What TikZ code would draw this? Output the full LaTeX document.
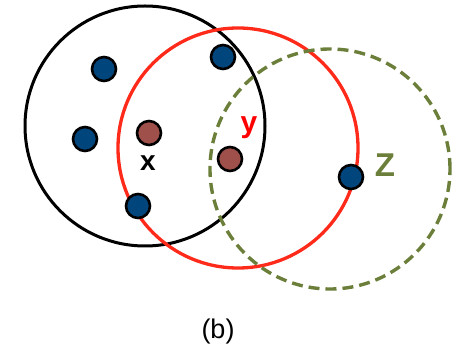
\documentclass[tikz,border=0pt]{standalone}
\usepackage{fontspec}
\setmainfont{Liberation Sans}
\usetikzlibrary{positioning}
\definecolor{ptblue}{HTML}{00457C}
\definecolor{ptred}{HTML}{A0504A}
\definecolor{ringred}{HTML}{FF2A1A}
\definecolor{ringgreen}{HTML}{6B7F3A}

\begin{document}
\begin{tikzpicture}[
    x=1pt, y=-1pt,
    ring/.style={circle, draw, line width=3pt, minimum size=240pt, inner sep=0pt},
    point/.style={circle, draw=black, line width=2.6pt, minimum size=24pt, inner sep=0pt},
    lbl/.style={inner sep=0pt, anchor=base, font=\bfseries\fontsize{28}{28}\selectfont}
]
\useasboundingbox (0,0) rectangle (458,347);
% the three neighbourhoods
\node[ring, draw=black] (ringx) at (145,126) {};
\node[ring, draw=ringred, line width=3.3pt] (ringy) at (238,148) {};
\node[ring, draw=ringgreen, dash pattern=on 11pt off 6pt, line width=3.4pt] (ringz) at (330,169) {};
% points
\node[point, fill=ptblue] (p1) at (104,69) {};
\node[point, fill=ptblue] (p2) at (85,139) {};
\node[point, fill=ptblue] (p3) at (223,57) {};
\node[point, fill=ptblue] (p4) at (138,206) {};
\node[point, fill=ptred] (xdot) at (149,133) {};
\node[point, fill=ptred] (ydot) at (230,159) {};
\node[point, fill=ptblue] (zdot) at (351,177) {};
% labels
\node[lbl] (xlbl) at (148,171) {x};
\node[lbl, text=red, font=\bfseries\fontsize{30}{30}\selectfont] (ylbl) at (249,133) {y};
\node[lbl, text=ringgreen, font=\bfseries\fontsize{33}{33}\selectfont] (zlbl) at (385,177) {Z};
\node[inner sep=0pt, anchor=base, font=\fontsize{27}{27}\selectfont] (cap) at (218,339) {(b)};
\end{tikzpicture}
\end{document}
